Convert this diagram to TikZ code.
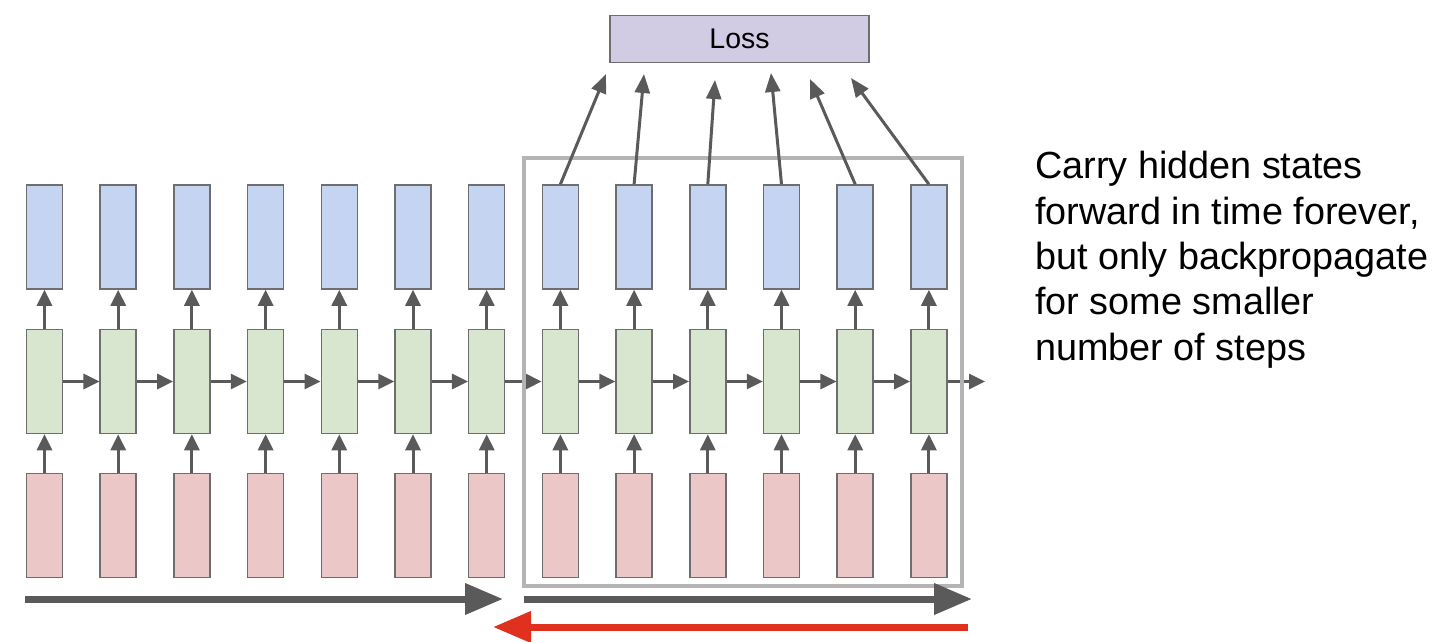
\documentclass[tikz,border=0pt]{standalone}
\usepackage{fontspec}
\setmainfont{Liberation Sans}
\usetikzlibrary{arrows.meta}
\definecolor{bluefill}{HTML}{C5D5F1}
\definecolor{greenfill}{HTML}{D8E6CF}
\definecolor{redfill}{HTML}{EBC7C7}
\definecolor{lossfill}{HTML}{D1CCE3}
\definecolor{boxline}{HTML}{6E6E6E}
\definecolor{arrowgray}{HTML}{5A5A5A}
\definecolor{framegray}{HTML}{B4B4B4}
\definecolor{backred}{HTML}{E0301E}
\tikzset{
  cell/.style={draw=boxline, line width=1.5pt, minimum width=36pt, minimum height=104pt, inner sep=0pt},
  smallarrow/.style={draw=arrowgray, line width=3pt, -{Triangle[length=16pt,width=15pt]}, color=arrowgray},
  lossarrow/.style={draw=arrowgray, line width=3pt, -{Triangle[length=19pt,width=15pt]}, color=arrowgray},
  bigarrow/.style={line width=7pt, -{Triangle[length=38pt,width=30pt]}},
}
\begin{document}
\begin{tikzpicture}[x=1pt,y=-1pt]
\useasboundingbox (0,0) rectangle (1446,642);
% cells
\foreach \k in {0,...,12}{
  \pgfmathsetmacro{\cx}{44.5+73.7*\k}
  \node[cell, fill=bluefill] (b\k) at (\cx,237) {};
  \node[cell, fill=greenfill] (g\k) at (\cx,381.5) {};
  \node[cell, fill=redfill] (r\k) at (\cx,525.5) {};
}
% vertical arrows
\foreach \k in {0,...,12}{
  \draw[smallarrow] (r\k.north) -- (g\k.south);
  \draw[smallarrow] (g\k.north) -- (b\k.south);
}
% horizontal arrows
\foreach \k [evaluate=\k as \n using int(\k+1)] in {0,...,11}{
  \draw[smallarrow] (g\k.east) -- (g\n.west);
}
\coordinate (gout) at (985,381.5);
\draw[smallarrow] (g12.east) -- (gout);
% frame
\node[draw=framegray, line width=4pt, minimum width=438pt, minimum height=428pt, inner sep=0pt] (frame) at (743,372) {};
% loss
\node[draw=boxline, line width=1.5pt, fill=lossfill, minimum width=259pt, minimum height=47pt, inner sep=0pt, font=\fontsize{28.5}{30}\selectfont] (loss) at (739.5,39) {Loss};
\coordinate (t7) at (606,74);
\coordinate (t8) at (644,74);
\coordinate (t9) at (715,80);
\coordinate (t10) at (771,73);
\coordinate (t11) at (810,79);
\coordinate (t12) at (851,78);
\foreach \k in {7,...,12}{
  \draw[lossarrow] (b\k.north) -- (t\k);
}
% bottom arrows
\coordinate (a1s) at (25,599);
\coordinate (a1e) at (503,599);
\coordinate (a2s) at (524,599);
\coordinate (a2e) at (972,599);
\coordinate (a3s) at (968,627);
\coordinate (a3e) at (493,627);
\draw[bigarrow, draw=arrowgray, color=arrowgray] (a1s) -- (a1e);
\draw[bigarrow, draw=arrowgray, color=arrowgray] (a2s) -- (a2e);
\draw[bigarrow, draw=backred, color=backred] (a3s) -- (a3e);
% text
\node[anchor=base west, align=left, inner sep=0pt, font=\fontsize{37.8}{45.3}\selectfont] (txt) at (1035,360) {Carry hidden states\\forward in time forever,\\but only backpropagate\\for some smaller\\number of steps};
\end{tikzpicture}
\end{document}
